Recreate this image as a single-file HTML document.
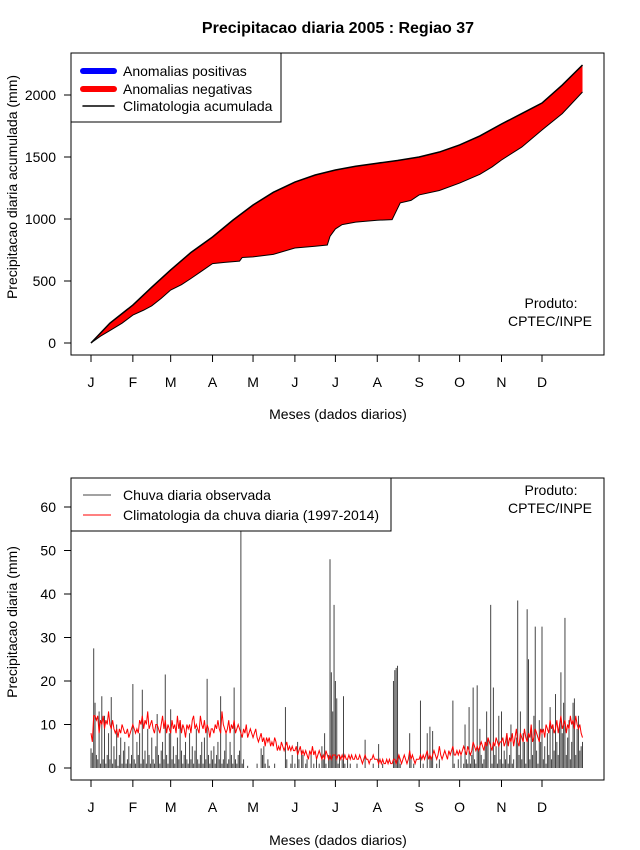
<!DOCTYPE html>
<html><head><meta charset="utf-8">
<style>
body{margin:0;background:#fff;}
svg{display:block;font-family:"Liberation Sans",sans-serif;}
</style></head>
<body>
<svg id="chart" width="640" height="850" viewBox="0 0 640 850" xmlns="http://www.w3.org/2000/svg">
<rect x="0" y="0" width="640" height="850" fill="#fff"/>
<text x="338" y="33" text-anchor="middle" font-size="16" font-weight="bold">Precipitacao diaria 2005 : Regiao 37</text>
<g id="top"></g>
<g id="bot"></g>
</svg>
<script>
const monthLabels = ["J","F","M","A","M","J","J","A","S","O","N","D"];
const monthDays = [1,32,60,91,121,152,182,213,244,274,305,335];
const topYTicks = [0,500,1000,1500,2000];
const botYTicks = [0,10,20,30,40,50,60];
const climCumDays = [1,15,32,46,60,75,91,106,121,136,152,167,182,197,213,228,244,259,274,289,305,320,335,350,365];
const climCumVals = [0,160,306,450,589,730,855,990,1113,1215,1298,1355,1395,1425,1450,1472,1500,1540,1597,1670,1766,1850,1935,2080,2242];
const obsCumDays = [1,8,15,24,32,40,46,53,60,68,75,83,91,100,111,113,121,136,152,167,176,178,182,187,197,213,224,226,230,238,244,259,274,289,298,305,320,335,350,365];
const obsCumVals = [0,55,100,160,225,265,300,360,427,470,520,580,640,650,660,690,695,715,766,780,790,860,920,955,975,990,995,1040,1130,1150,1194,1230,1290,1360,1420,1476,1580,1718,1850,2024];
const climDaily = [
8,6,12,12,11,12,8,11,10,12,9,11,10,13,10,9,11,9,8,9,7,9,8,10,9,8,8,9,7,8,9,
10,9,8,9,8,11,10,12,9,11,10,13,9,10,11,9,8,10,10,9,8,10,12,9,11,8,10,9,
8,11,9,10,8,12,9,11,8,10,9,7,10,9,10,8,11,12,9,10,9,8,12,10,9,11,8,10,9,7,9,
9,8,10,9,11,9,8,13,10,9,8,9,11,8,10,9,11,8,9,10,9,8,7,9,8,10,7,8,9,8,
7,8,9,7,6,7,8,6,7,5,7,6,7,5,6,5,7,6,4,5,4,6,5,4,5,6,4,5,4,5,4,
4,5,3,4,5,3,4,3,4,3,2,4,3,5,3,4,2,3,4,3,2,3,2,4,3,2,3,2,3,3,
3,2,3,3,2,3,2,3,2,2,3,2,3,2,2,3,2,2,3,2,1,2,3,2,2,1,2,2,3,2,2,
2,1,2,1,2,1,1,2,1,2,1,1,2,2,1,2,3,2,1,2,3,2,1,2,4,2,3,2,1,2,2,
2,3,2,3,2,3,4,2,3,2,3,4,3,2,3,5,3,2,3,4,3,2,4,3,4,5,3,3,4,3,
4,3,4,5,4,3,5,4,3,4,6,5,4,5,4,5,6,5,4,6,5,7,6,5,4,6,5,7,6,5,6,
6,7,5,6,8,5,7,6,8,5,7,9,6,5,8,7,6,9,7,6,8,7,10,6,7,9,8,7,6,9,
8,9,7,10,9,8,11,9,10,8,9,11,8,10,12,9,10,11,8,10,9,12,10,11,9,12,10,9,10,8,7];
const obsDaily = [
4.5,3.5,27.5,15,3,2,13,1,16.5,2,12,1,3,8,2,16.3,1,5,2,10,0.5,3,7,1,4,6,1,2,5,1,3,
19.3,2,1,6,3,8,1,18,2,4,1,9,3,1,7,2,1,5,12.4,3,1,4,6,2,21.5,3,1,8,
13.5,2,5,1,3,7,2,11,4,1,3,6,2,1,8,2,5,1,4,9,2,1,3,6,1,7,2,20.5,3,1,4,
2,5,1,3,6,2,16.5,1,2,4,8,1,2,6,3,1,18.5,2,1,3,4,65,1,2,0,0,0.5,0,0,0,
0,0,0,1,0,0,4.5,3,5,1,0,2,0.5,0,0,0,1,0,0,0,0,0,0,0,14,2,0,0,1,3,0,
1,0,6,2,0,4,3,0,1,2,0,0,3.5,0,1,0,2,0,1,0,5,2,8,1,0,3,48,22,13,37.5,
20,16,1,3,0,2,16.5,1,0,2,0,1,0,0,0,0,1,0,0,0,0,0,6.5,0,0,0,0,0,1,0,0,
0,5.5,0,0,1,0,0,0,0,0,0,0,20,22.5,23,23.5,3,1,0,0,0,0,0,0,8,2,0,1,0,0,0,
0,15.5,0,1,0,0,8,0,9.5,2,8.5,0,0,1,0,2,0,0,0,0,0,0,0,0,0,15.5,1,0,0,2,
0,3,0,1,10,2,1,14,1,3,18.5,2,1,19,4,9,3,1,2,6,13,7,0,37.5,1,18.5,3,5,1,12,2,
13,1,4,2,8,1,3,10,1,2,0,7,38.5,3,13,2,8,6,1,36.5,25,2,9,3,12,32.5,4,1,11,6,
32.5,2,5,1,8,3,14,2,10,4,17,6,3,10,22,8,15,34.5,3,7,11,2,6,15,16,3,9,12,4,5,6];

const NS="http://www.w3.org/2000/svg";
function mk(parent,tag,attrs,text){const e=document.createElementNS(NS,tag);for(const k in attrs)e.setAttribute(k,attrs[k]);if(text!==undefined)e.textContent=text;parent.appendChild(e);return e;}
const xDay = d => 91 + (d-1)*(542-91)/334;
const yTop = v => 343 - v*(343-95)/2000;
const yBot = v => 768 - v*(768-507)/60;

function axes(g, box, yScale, yTicks, xTickY, xLabY, xTitleY, yTitle, yTitleY, prodY){
  const r=mk(g,'rect',{x:box[0],y:box[1],width:box[2]-box[0],height:box[3]-box[1],fill:'none',stroke:'#000','stroke-width':1});
  
  
  const xa=mk(g,'g',{});
  
  
  mk(xa,'line',{x1:xDay(1),x2:xDay(335),y1:xTickY,y2:xTickY,stroke:'#000'});
  monthDays.forEach((d,i)=>{
    mk(xa,'line',{x1:xDay(d),x2:xDay(d),y1:xTickY,y2:xTickY+7,stroke:'#000'});
    const t=mk(xa,'text',{x:xDay(d),y:xLabY,'text-anchor':'middle','font-size':14},monthLabels[i]);
    
    
  });
  const ya=mk(g,'g',{});
  
  
  mk(ya,'line',{x1:box[0],x2:box[0],y1:yScale(yTicks[0]),y2:yScale(yTicks[yTicks.length-1]),stroke:'#000'});
  yTicks.forEach(v=>{
    mk(ya,'line',{x1:box[0]-7,x2:box[0],y1:yScale(v),y2:yScale(v),stroke:'#000'});
    const t=mk(ya,'text',{x:56,y:yScale(v)+5,'text-anchor':'end','font-size':14},String(v));
    
    
  });
  const xt=mk(g,'text',{x:338,y:xTitleY,'text-anchor':'middle','font-size':14},'Meses (dados diarios)');
  
  
  const yt=mk(g,'text',{x:0,y:0,'text-anchor':'middle','font-size':14,transform:`translate(17,${yTitleY}) rotate(-90)`},yTitle);
  
  
  const p=mk(g,'text',{x:551,y:prodY,'text-anchor':'middle','font-size':14},'Produto:');
  
  
  const p2=mk(g,'text',{x:550,y:prodY+18,'text-anchor':'middle','font-size':14},'CPTEC/INPE');
  
  
}

// TOP
const gt=document.getElementById('top');


let pts=climCumDays.map((d,i)=>xDay(d)+','+yTop(climCumVals[i]));
let ptsObs=obsCumDays.map((d,i)=>xDay(d)+','+yTop(obsCumVals[i]));
const area=mk(gt,'polygon',{points:pts.concat(ptsObs.slice().reverse()).join(' '),fill:'#ff0000',stroke:'none'});


const lo=mk(gt,'polyline',{points:ptsObs.join(' '),fill:'none',stroke:'#000','stroke-width':1});


const lc=mk(gt,'polyline',{points:pts.join(' '),fill:'none',stroke:'#000','stroke-width':1.5});


axes(gt,[71,53,604,355],yTop,topYTicks,355,387,419,'Precipitacao diaria acumulada (mm)',187,308);
const lg=mk(gt,'g',{});


mk(lg,'rect',{x:71,y:53,width:210,height:69,fill:'#fff',stroke:'#000'});
[['Anomalias positivas','#0000ff',6,71],['Anomalias negativas','#ff0000',6,89],['Climatologia acumulada','#000',1.5,106]].forEach(e=>{
  const en=mk(lg,'g',{});
  
  
  mk(en,'line',{x1:83,x2:114,y1:e[3],y2:e[3],stroke:e[1],'stroke-width':e[2],'stroke-linecap':'round'});
  mk(en,'text',{x:123,y:e[3]+5,'font-size':14},e[0]);
});

// BOTTOM
const gb=document.getElementById('bot');


const bars=mk(gb,'g',{});


obsDaily.forEach((v,i)=>{
  const yv=Math.max(yBot(v),479);
  const b=mk(bars,'line',{x1:xDay(i+1),x2:xDay(i+1),y1:yBot(0),y2:yv,stroke:'#444','stroke-width':1});
  
  
});
const cl=mk(gb,'polyline',{points:climDaily.map((v,i)=>xDay(i+1)+','+yBot(v)).join(' '),fill:'none',stroke:'#ff0000','stroke-width':1});


axes(gb,[71,478,604,780],yBot,botYTicks,780,812,845,'Precipitacao diaria (mm)',622,495);
const lg2=mk(gb,'g',{});


mk(lg2,'rect',{x:71,y:478,width:320,height:53,fill:'#fff',stroke:'#000'});
[['Chuva diaria observada','#444',495],['Climatologia da chuva diaria (1997-2014)','#ff0000',515]].forEach(e=>{
  const en=mk(lg2,'g',{});
  
  
  mk(en,'line',{x1:83,x2:111,y1:e[2],y2:e[2],stroke:e[1],'stroke-width':1});
  mk(en,'text',{x:123,y:e[2]+5,'font-size':14},e[0]);
});
</script>
</body></html>
